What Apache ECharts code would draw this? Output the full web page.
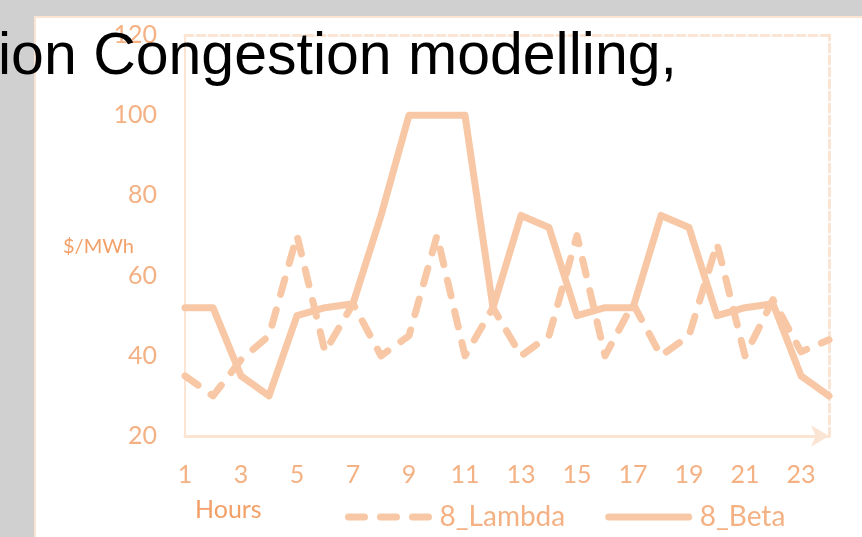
<!DOCTYPE html>
<html>
<head>
<meta charset="utf-8">
<script src="https://cdn.jsdelivr.net/npm/echarts@6/dist/echarts.min.js"></script>
<style>
  html, body { margin: 0; padding: 0; background: #d0d0d0; }
  #chart { width: 862px; height: 537px; }
</style>
</head>
<body>
<div id="chart"></div>
<script>
// values, one per hour
const hours = ['1','2','3','4','5','6','7','8','9','10','11','12',
               '13','14','15','16','17','18','19','20','21','22','23','24'];
const lambda8 = [35,30,39,45,70,41,53,40,45,70,40,52,40,45,70,40,53,40,45,68,40,54,41,44];
const beta8 = [52,52,35,30,50,52,53,75,100,100,100,52,75,72,50,52,52,75,72,50,52,53,35,30];

const lineColor = '#f8c8a6';
const labelColor = '#f4b183';
const nameColor = '#f2a068';
const frameColor = '#fce4d3';

let chart = echarts.init(document.getElementById('chart'));

let option = {
    backgroundColor: '#d0d0d0',
    animation: false,
    graphic: [
        {
            type: 'rect', z: -10,
            shape: { x: 35, y: 17, width: 900, height: 600 },
            style: { fill: '#fff', stroke: frameColor, lineWidth: 2 }
        },
        {
            type: 'text', left: 63, top: 237,
            style: { text: '$/MWh', fill: nameColor, font: '20px Lato' }
        },
        {
            type: 'text', left: 195, top: 497,
            style: { text: 'Hours', fill: nameColor, font: '25px Lato' }
        },
        {
            // slide title partly cut off at the left edge
            type: 'text', z: 100, x: -2, y: 28,
            style: { text: 'ion Congestion modelling,', fill: '#000', font: '59px "Liberation Sans"' }
        }
    ],
    grid: { left: 185, right: 33, top: 35, bottom: 101 },
    legend: {
        left: 340, top: 498,
        itemWidth: 80, itemHeight: 14, itemGap: 40,
        itemStyle: { opacity: 0 },
        lineStyle: { width: 7, cap: 'round' },
        textStyle: { color: labelColor, fontFamily: 'Lato', fontSize: 28, padding: [0, 0, 0, 6] },
        data: ['8_Lambda', '8_Beta']
    },
    xAxis: [{
        type: 'category',
        data: hours,
        boundaryGap: false,
        axisLine: {
            lineStyle: { color: frameColor, width: 3 },
            symbol: ['none', 'arrow'],
            symbolSize: [16, 18]
        },
        axisTick: { show: false },
        axisLabel: { interval: 1, margin: 26, color: labelColor, fontFamily: 'Lato', fontSize: 25 }
    }, {
        type: 'category',
        data: hours,
        boundaryGap: false,
        position: 'top',
        axisLine: { lineStyle: { color: frameColor, width: 3, type: [8, 4] } },
        axisTick: { show: false },
        axisLabel: { show: false }
    }],
    yAxis: [{
        type: 'value',
        min: 20, max: 120, interval: 20,
        axisLine: { show: true, lineStyle: { color: frameColor, width: 2 } },
        axisTick: { show: false },
        splitLine: { show: false },
        axisLabel: { margin: 28, color: labelColor, fontFamily: 'Lato', fontSize: 25 }
    }, {
        type: 'value',
        min: 20, max: 120, interval: 20,
        position: 'right',
        axisLine: { show: true, lineStyle: { color: frameColor, width: 3, type: [8, 4] } },
        axisTick: { show: false },
        splitLine: { show: false },
        axisLabel: { show: false }
    }],
    series: [{
        name: '8_Lambda',
        type: 'line',
        data: lambda8,
        symbol: 'none',
        lineStyle: { color: lineColor, width: 7, type: [16, 16], cap: 'round', join: 'round' },
        itemStyle: { color: lineColor }
    }, {
        name: '8_Beta',
        type: 'line',
        data: beta8,
        symbol: 'none',
        lineStyle: { color: lineColor, width: 7, cap: 'round', join: 'round' },
        itemStyle: { color: lineColor }
    }]
};
chart.setOption(option);
</script>
</body>
</html>
